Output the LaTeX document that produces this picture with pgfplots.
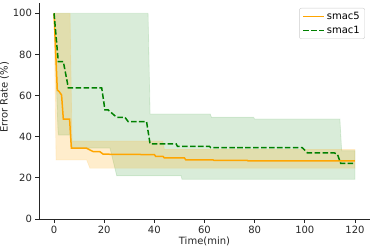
\documentclass[border=0pt]{standalone}
\usepackage{fontspec}
\setmainfont{DejaVu Sans}
\usepackage{pgfplots}
\pgfplotsset{compat=1.18}
\definecolor{mplorange}{HTML}{FFA500}
\definecolor{mplgreen}{HTML}{008000}
\definecolor{spine}{HTML}{262626}
\begin{document}
\fontsize{10bp}{12bp}\selectfont
\begin{tikzpicture}
\path[use as bounding box] (-39bp,-30bp) rectangle (335bp,219bp);
\begin{axis}[
  scale only axis,
  width=331bp, height=216bp,
  xmin=-6, xmax=126, ymin=0, ymax=105,
  axis lines*=left,
  axis line style={spine, line width=0.8bp},
  tick style={spine, line width=0.8bp},
  tick align=outside,
  major tick length=3.5bp,
  xtick={0,20,40,60,80,100,120},
  ytick={0,20,40,60,80,100},
  /pgf/number format/assume math mode=true,
  tick label style={font=\fontsize{10bp}{12bp}\selectfont, text=spine},
  xlabel={Time(min)},
  ylabel={Error Rate (\%)},
  label style={font=\fontsize{10bp}{12bp}\selectfont, text=spine},
  x label style={at={(axis description cs:0.5,-0.104)}, anchor=center},
  y label style={at={(axis description cs:-0.104,0.5625)}, anchor=center},
  legend style={at={(1,1)}, anchor=north east, xshift=-5bp, yshift=-5bp,
    draw=black!20, rounded corners=2bp, fill=white, fill opacity=0.8, text opacity=1,
    font=\fontsize{10bp}{12bp}\selectfont, inner xsep=3bp, inner ysep=2bp,
    row sep=1bp},
  legend cell align=left,
  legend image code/.code={\draw[#1] (0bp,0bp) -- (21bp,0bp);},
]
% smac1 band (upper forward, lower reversed)
\addplot[forget plot, fill=mplgreen, fill opacity=0.15, draw=mplgreen, draw opacity=0.12, line width=0.8bp] coordinates {
(0,100) (37.5,100) (38.3,51.0) (62.3,51.0) (62.8,49.4) (79.6,49.4) (80.0,48.6) (114.0,48.6) (114.7,33.2) (120,33.2)
(120,19.3) (51.0,19.3) (50.7,21.0) (25.0,21.0) (22.3,34.5) (7.3,34.5) (6.4,40.8) (1.7,40.8) (1.5,45) (0,100)
} -- cycle;
% smac5 band
\addplot[forget plot, fill=mplorange, fill opacity=0.2, draw=mplorange, draw opacity=0.12, line width=0.8bp] coordinates {
(0,100) (6.4,100) (7.2,37.9) (43.4,37.9) (44.0,33.8) (120,33.8)
(120,24.7) (14.3,24.7) (13.0,28.7) (0.8,28.7) (0,100)
} -- cycle;
\addplot[mplorange, line width=1.5bp] coordinates {
(0,100) (1.3,62.7) (2.0,62.0) (3.0,60.3) (3.7,48.6) (6.2,48.6) (6.9,34.4) (13.0,34.4)
(15.7,32.7) (18.3,32.7) (19.6,31.5) (40.0,31.3) (40.5,30.5) (43.4,30.5) (44.0,29.7)
(52.0,29.7) (52.5,28.8) (63.3,28.8) (63.8,28.5) (77.0,28.5) (77.5,28.2) (120,28.2)
};
\addlegendentry{smac5}
\addplot[mplgreen, line width=1.5bp, dash pattern=on 5.55bp off 2.4bp] coordinates {
(0,100) (1.7,76.5) (3.7,76.5) (5.7,63.8) (19.0,63.8) (20.3,53.0) (21.6,53.0) (25.0,49.4)
(28.3,49.4) (29.6,47.3) (36.9,47.3) (38.3,36.5) (48.7,36.5) (49.2,35.3) (62.0,35.3)
(62.5,34.7) (99.0,34.7) (101.0,32.2) (111.6,32.2) (113.0,31.5) (114.3,27.1) (120,27.1)
};
\addlegendentry{smac1}
\end{axis}
\end{tikzpicture}
\end{document}
